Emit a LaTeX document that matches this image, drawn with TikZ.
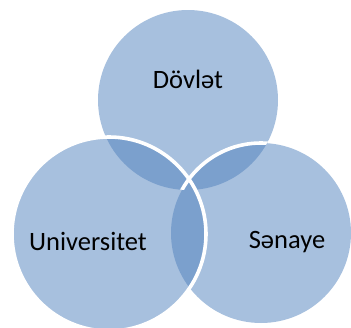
\documentclass[tikz,border=0pt]{standalone}
\usepackage{fontspec}
\setmainfont{Carlito}
\definecolor{vennlight}{RGB}{167,192,222}
\definecolor{venndark}{RGB}{123,160,205}

\begin{document}
\begin{tikzpicture}[
    x=1pt, y=-1pt,
    vennlabel/.style={font=\fontsize{26.5}{30}\selectfont, anchor=base, inner sep=0pt},
    vennrim/.style={draw=white, line width=3.6pt}
]
\useasboundingbox (0,0) rectangle (351,327);
\coordinate (dov) at (188,100);
\coordinate (uni) at (109,234);
\coordinate (sen) at (261,233);

\fill[vennlight] (dov) circle[radius=90pt];
\fill[vennlight] (sen) circle[radius=90pt];
\fill[vennlight] (uni) circle[radius=97pt];
\begin{scope}
  \clip (dov) circle[radius=90pt];
  \fill[venndark] (uni) circle[radius=97pt];
  \fill[venndark] (sen) circle[radius=90pt];
\end{scope}
\begin{scope}
  \clip (uni) circle[radius=97pt];
  \fill[venndark] (sen) circle[radius=90pt];
\end{scope}
\begin{scope}
  \clip (dov) circle[radius=90pt];
  \draw[vennrim] (sen) circle[radius=90pt];
\end{scope}
\draw[vennrim] (uni) circle[radius=97pt];

\node[vennlabel] (tdov) at (188,88) {Dövlət};
\node[vennlabel] (tuni) at (88,250) {Universitet};
\node[vennlabel] (tsen) at (287,248) {Sənaye};
\end{tikzpicture}
\end{document}
